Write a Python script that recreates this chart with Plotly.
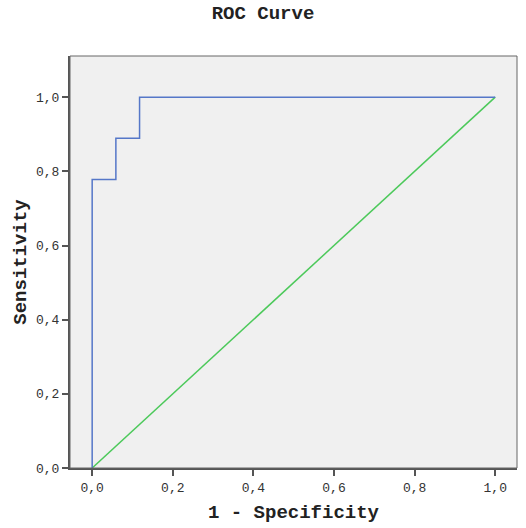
import plotly.graph_objects as go

roc_x = [0.0, 0.0, 0.0588, 0.0588, 0.1176, 0.1176, 1.0]
roc_y = [0.0, 0.778, 0.778, 0.889, 0.889, 1.0, 1.0]
ref_x = [0.0, 1.0]
ref_y = [0.0, 1.0]
tick_vals = [0.0, 0.2, 0.4, 0.6, 0.8, 1.0]

font_mono = "Liberation Mono, Courier New, monospace"

fig = go.Figure()
fig.add_trace(go.Scatter(x=ref_x, y=ref_y, mode="lines",
                         line=dict(color="#4cc95a", width=1.5), showlegend=False))
fig.add_trace(go.Scatter(x=roc_x, y=roc_y, mode="lines",
                         line=dict(color="#5577c8", width=1.5), showlegend=False))

fig.update_layout(
    width=526, height=528,
    margin=dict(l=70, r=9, t=56, b=58),
    paper_bgcolor="white",
    plot_bgcolor="#f0f0f0",
    separators=",.",
    title=dict(text="<b>ROC Curve</b>", x=0.5, xanchor="center", y=0.977, yanchor="middle",
               font=dict(family=font_mono, size=19, color="#222")),
    xaxis=dict(range=[-0.055, 1.054], tickvals=tick_vals, tickformat=".1f",
               showgrid=False, zeroline=False, showline=True, linecolor="#555", linewidth=2,
               ticks="outside", ticklen=6, tickwidth=2, tickcolor="#555",
               tickfont=dict(family=font_mono, size=13, color="#333"),
               title=dict(text="<b>1 - Specificity</b>", standoff=10,
                          font=dict(family=font_mono, size=19, color="#222"))),
    yaxis=dict(range=[0, 1.111], tickvals=tick_vals, tickformat=".1f",
               showgrid=False, zeroline=False, showline=True, linecolor="#555", linewidth=2,
               ticks="outside", ticklen=6, tickwidth=2, tickcolor="#555",
               tickfont=dict(family=font_mono, size=13, color="#333"),
               title=dict(text="<b>Sensitivity</b>", standoff=4,
                          font=dict(family=font_mono, size=19, color="#222"))),
)
fig.add_shape(type="rect", xref="paper", yref="paper", x0=0, y0=0, x1=1, y1=1,
              line=dict(color="#666", width=1), layer="above")

fig.write_html("out.html")
